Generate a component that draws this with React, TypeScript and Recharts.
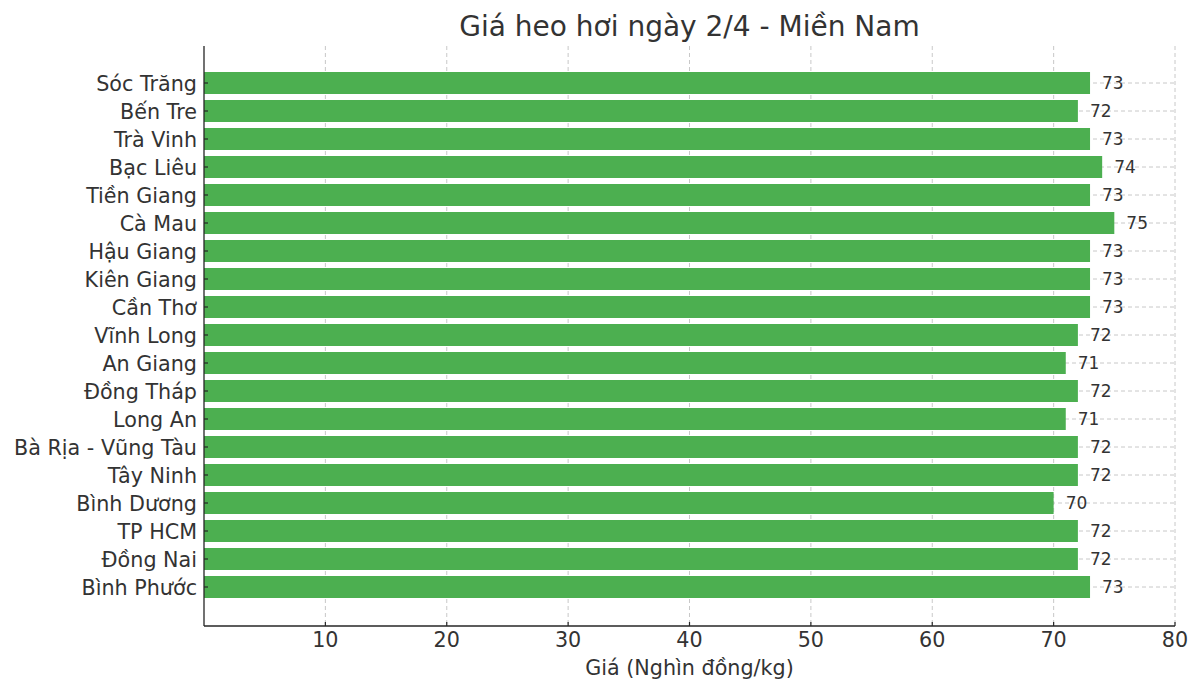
import React from 'react';
import { BarChart, Bar, XAxis, YAxis, CartesianGrid, LabelList } from 'recharts';

// provinces top to bottom, as shown in the chart
const provinces = [
  'Sóc Trăng', 'Bến Tre', 'Trà Vinh', 'Bạc Liêu', 'Tiền Giang', 'Cà Mau',
  'Hậu Giang', 'Kiên Giang', 'Cần Thơ', 'Vĩnh Long', 'An Giang', 'Đồng Tháp',
  'Long An', 'Bà Rịa - Vũng Tàu', 'Tây Ninh', 'Bình Dương', 'TP HCM',
  'Đồng Nai', 'Bình Phước',
];
const prices = [73, 72, 73, 74, 73, 75, 73, 73, 73, 72, 71, 72, 71, 72, 72, 70, 72, 72, 73];
const xTicks = [10, 20, 30, 40, 50, 60, 70, 80];

const data = provinces.map((name, i) => ({ name, price: prices[i] }));

const FONT = '"DejaVu Sans", sans-serif';
const TEXT = '#333333';
const AXIS = '#262626';
const LABEL_SIZE = 20.7;

// matplotlib-style inward ticks
function YTick(props: any) {
  const { x, y, payload } = props;
  return (
    <g>
      <line x1={x} x2={x + 4} y1={y} y2={y} stroke={AXIS} strokeWidth={1.2} />
      <text x={x - 7} y={y} dy="0.4em" textAnchor="end" fontSize={LABEL_SIZE} fill={TEXT} fontFamily={FONT}>
        {payload.value}
      </text>
    </g>
  );
}

function XTick(props: any) {
  const { x, y, payload } = props;
  return (
    <g>
      <line x1={x} x2={x} y1={y - 4} y2={y} stroke={AXIS} strokeWidth={1.2} />
      <text x={x} y={y + 21} textAnchor="middle" fontSize={LABEL_SIZE} fill={TEXT} fontFamily={FONT}>
        {payload.value}
      </text>
    </g>
  );
}

export default function App() {
  return (
    <div style={{ position: 'absolute', left: 0, top: 0, width: 1200, height: 694, background: '#fff' }}>
      <div
        style={{
          position: 'absolute',
          left: 204,
          width: 971,
          top: 10,
          textAlign: 'center',
          fontFamily: FONT,
          fontSize: 28,
          lineHeight: '34px',
          color: TEXT,
        }}
      >
        Giá heo hơi ngày 2/4 - Miền Nam
      </div>
      <BarChart
        width={1200}
        height={694}
        data={data}
        layout="vertical"
        margin={{ top: 46, right: 25, bottom: 0, left: 0 }}
      >
        <XAxis
          type="number"
          domain={[0, 80]}
          ticks={xTicks}
          height={68}
          tick={<XTick />}
          tickLine={false}
          tickSize={0}
          tickMargin={0}
          axisLine={{ stroke: AXIS, strokeWidth: 1.3 }}
          label={{
            value: 'Giá (Nghìn đồng/kg)',
            position: 'insideBottom',
            offset: 19,
            fontSize: LABEL_SIZE,
            fill: TEXT,
            fontFamily: FONT,
          }}
        />
        <YAxis
          type="category"
          dataKey="name"
          width={204}
          padding={{ top: 23, bottom: 25 }}
          tick={<YTick />}
          tickLine={false}
          tickSize={0}
          tickMargin={0}
          interval={0}
          axisLine={{ stroke: AXIS, strokeWidth: 1.3 }}
        />
        <Bar dataKey="price" fill="#4caf50" barSize={22} isAnimationActive={false}>
          <LabelList
            dataKey="price"
            position="right"
            offset={12}
            fontSize={17}
            fill={TEXT}
            fontFamily={FONT}
          />
        </Bar>
        <CartesianGrid stroke="#b0b0b0" strokeOpacity={0.7} strokeDasharray="4 3" syncWithTicks />
      </BarChart>
    </div>
  );
}
